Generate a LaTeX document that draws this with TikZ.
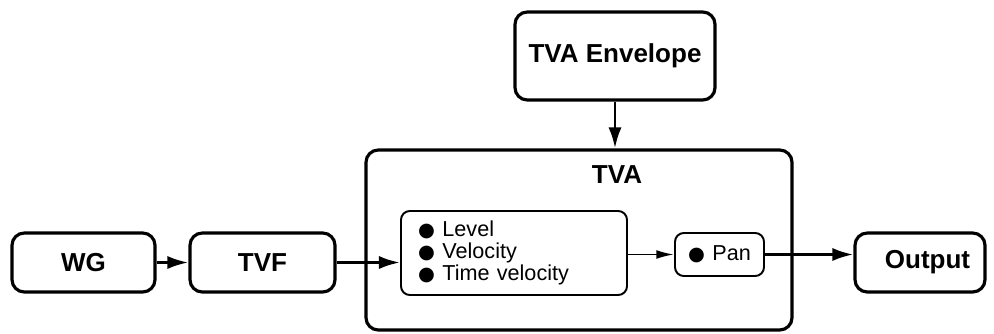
\documentclass[tikz,border=0pt]{standalone}
\usepackage{fontspec}
\setmainfont{Liberation Sans}
\newfontfamily\symfont{DejaVu Sans}
\newcommand{\bul}{{\symfont\fontsize{11}{12}\selectfont●}\hspace{0.35em}}
\usepackage{tikz}
\usetikzlibrary{arrows.meta, positioning}

\begin{document}
\begin{tikzpicture}[
        block/.style={draw, line width=1.8pt, rounded corners=7pt, align=center,
            font=\fontsize{14.8}{17}\selectfont\bfseries, inner sep=0pt},
        inner/.style={draw, line width=1.1pt, rounded corners=5pt, align=left,
            font=\fontsize{12.3}{12.5}\selectfont, inner sep=0pt},
        big/.style={line width=1.7pt, -{Latex[length=12pt,width=7.5pt]}},
        small/.style={line width=1.1pt, -{Latex[length=10pt,width=5pt]}}]
        \useasboundingbox (0,0) rectangle (19.88,6.66);

        \node[block, minimum width=2.86cm, minimum height=1.18cm] (wg) at (1.67,1.41) {WG};
        \node[block, minimum width=2.9cm, minimum height=1.18cm] (tvf) at (5.25,1.41) {TVF};
        \node[block, minimum width=8.52cm, minimum height=3.6cm] (tva) at (11.58,1.86) {};
        \node[block, minimum width=4cm, minimum height=1.76cm] (env) at (12.3,5.54) {TVA Envelope};
        \node[block, minimum width=2.6cm, minimum height=1.18cm] (out) at (18.4,1.41) {\hspace{0.3cm}Output};
        \node[font=\fontsize{14.8}{17}\selectfont\bfseries] (tvalabel) at (12.34,3.16) {TVA};

        \node[inner, minimum width=4.52cm, minimum height=1.68cm, inner xsep=0.34cm, text width=3.84cm] (par) at (10.28,1.6)
            {\bul Level\\\bul Velocity\\\bul Time velocity};
        \node[inner, minimum width=1.78cm, minimum height=0.86cm] (pan) at (14.39,1.57)
            {\bul Pan};

        \draw[big] (wg) -- (tvf);
        \draw[big] (tvf.east) -- (tvf.east -| par.west);
        \draw[big] (env) -- (env |- tva.north);
        \draw[small] (par.east |- pan.west) -- (pan.west);
        \draw[big] (pan.east) -- (pan.east -| out.west);
\end{tikzpicture}
\end{document}
